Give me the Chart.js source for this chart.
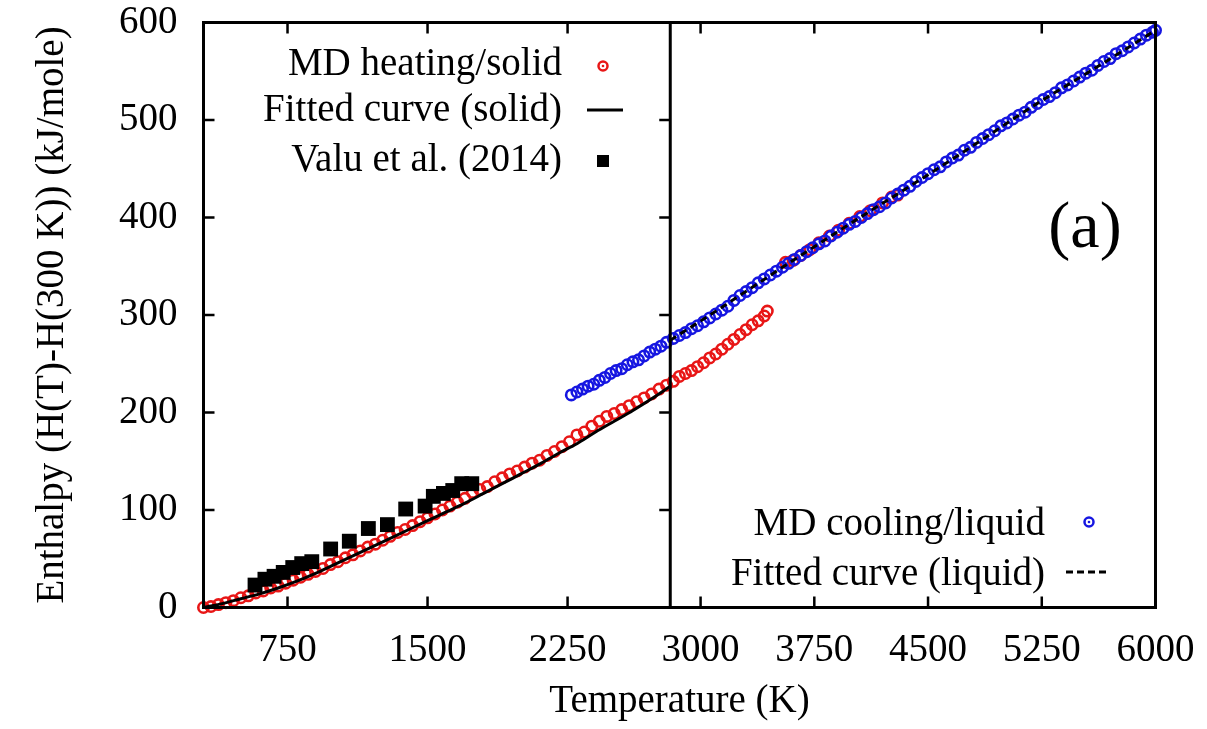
<!DOCTYPE html>
<html>
<head>
<meta charset="utf-8">
<script src="https://cdn.jsdelivr.net/npm/chart.js@4.4.1/dist/chart.umd.min.js"></script>
<style>
  body { margin: 0; background: #fff; }
  canvas { display: block; }
</style>
</head>
<body>
<canvas id="mychart" width="1207" height="729"></canvas>
<script>
// MD heating (solid, then melted liquid points above ~3500 K)
const heatingT = [300, 340, 380, 420, 460, 500, 540, 580, 620, 660, 700, 740, 780, 820, 860, 900, 940, 980,
  1020, 1060, 1100, 1140, 1180, 1220, 1260, 1300, 1340, 1380, 1420, 1460, 1500, 1540, 1580, 1620, 1660, 1700,
  1740, 1780, 1820, 1860, 1900, 1940, 1980, 2020, 2060, 2100, 2140, 2180, 2220, 2260, 2300, 2340, 2380, 2420,
  2460, 2500, 2540, 2580, 2620, 2660, 2700, 2740, 2780,
  2820, 2860, 2900, 2940, 2980, 3020, 3060, 3100, 3140, 3180, 3220, 3260, 3300, 3340, 3380, 3420, 3440,
  3560, 3610, 3660, 3720, 3780, 3850, 3910, 3980, 4050, 4120, 4200, 4260, 4300];
const heatingH = [0, 1, 3, 5, 7, 10, 12, 15, 17, 20, 22, 25, 28, 31, 34, 37, 40, 44,
  47, 51, 54, 58, 62, 65, 69, 73, 77, 80, 84, 88, 92, 96, 100, 104, 108, 112,
  118, 121, 124, 129, 133, 137, 140, 144, 148, 151, 156, 160, 165, 170, 177, 180, 186, 191,
  196, 199, 203, 207, 211, 215, 219, 224, 228,
  232, 237, 240, 243, 247, 251, 256, 260, 265, 270, 275, 280, 285, 290, 294, 299, 304,
  354, 356, 361, 367, 374, 381, 387, 394, 401, 407, 415, 421, 423];

// MD cooling (liquid)
const coolingT = [2270, 2300, 2330, 2360, 2390, 2420, 2450, 2480, 2510, 2540, 2570, 2600, 2630, 2660, 2690,
  2720, 2750, 2780,
  2820, 2860, 2900, 2940, 2980, 3020, 3060, 3100, 3140, 3180, 3220, 3260, 3300, 3340, 3380, 3420, 3460,
  3500, 3540, 3580, 3620, 3660, 3700, 3740, 3780, 3820, 3860, 3900, 3940, 3980, 4020, 4060, 4100, 4140,
  4180, 4220, 4260, 4300, 4340, 4380, 4420, 4460, 4500, 4540, 4580, 4620, 4660, 4700, 4740, 4780, 4820,
  4860, 4900, 4940, 4980, 5020, 5060, 5100, 5140, 5180, 5220, 5260, 5300, 5340, 5380, 5420, 5460, 5500,
  5540, 5580, 5620, 5660, 5700, 5740, 5780, 5820, 5860, 5900, 5940, 5980, 6000];
const coolingH = [218, 221, 224, 227, 229, 233, 236, 240, 243, 245, 249, 252, 254, 258, 262,
  265, 268, 272,
  276, 279, 282, 286, 289, 293, 297, 301, 305, 309, 315, 320, 324, 328, 333, 337, 341,
  345, 349, 353, 357, 361, 365, 369, 373, 376, 381, 385, 389, 393, 396, 400, 404, 408,
  411, 415, 420, 424, 428, 432, 437, 441, 445, 449, 452, 457, 461, 464, 469, 472, 477,
  481, 485, 489, 494, 497, 501, 505, 508, 513, 517, 521, 524, 528, 533, 536, 540, 544,
  548, 551, 556, 560, 563, 568, 571, 575, 579, 583, 587, 590, 592];

// fitted curves
const fitSolidT = [300, 400, 500, 600, 700, 800, 900, 1000, 1100, 1200, 1300, 1400, 1500, 1600, 1700, 1800,
  1900, 2000, 2100, 2200, 2300, 2400, 2500, 2600, 2700, 2800];
const fitSolidH = [0, 4, 9, 14, 20, 27, 35, 44, 53, 62, 71, 80, 89, 98, 107, 117,
  127, 137, 147, 158, 168, 180, 191, 202, 214, 227];
const fitLiquidT = [2800, 3200, 3600, 4000, 4400, 4800, 5200, 5600, 6000];
const fitLiquidH = [274, 314, 355, 395, 434, 474, 515, 553, 592];

// Valu et al. (2014)
const valuT = [576, 629, 678, 727, 778, 826, 880, 981, 1081, 1183, 1285, 1383, 1487, 1531, 1585, 1635, 1683, 1737];
const valuH = [23, 29, 32, 36, 41, 45, 47, 60, 68, 81, 85, 101, 104, 114, 117, 120, 127, 127];

const meltT = 2800;
const xLeftTicks = [750, 1500, 2250];
const xRightTicks = [3000, 3750, 4500, 5250, 6000];
const yTicks = [0, 100, 200, 300, 400, 500, 600];

const FONT = "'Liberation Serif', 'Times New Roman', serif";
const RED = 'rgb(232,22,22)';
const BLUE = 'rgb(22,22,225)';

function pts(xs, ys, keep) {
  const out = [];
  xs.forEach((x, i) => { if (keep(x)) out.push({x: x, y: ys[i]}); });
  return out;
}
const leftSide = x => x <= meltT;
const rightSide = x => x > meltT;

function ringSet(label, data, color, axis) {
  return {
    label: label, data: data, xAxisID: axis, yAxisID: 'y',
    showLine: false, pointStyle: 'circle', pointRadius: 5.2, pointHoverRadius: 5.2,
    borderColor: color, backgroundColor: 'rgba(0,0,0,0)', pointBorderWidth: 2.6, clip: false
  };
}

const datasets = [
  {
    label: 'Valu et al. (2014)', data: pts(valuT, valuH, leftSide), xAxisID: 'xL', yAxisID: 'y',
    showLine: false, pointStyle: 'rect', pointRadius: 10.5, pointHoverRadius: 10.5,
    backgroundColor: '#000', borderColor: '#000', borderWidth: 0, clip: false
  },
  {
    label: 'Fitted curve (solid)', data: pts(fitSolidT, fitSolidH, leftSide), xAxisID: 'xL', yAxisID: 'y',
    showLine: true, pointRadius: 0, borderColor: '#000', borderWidth: 3, cubicInterpolationMode: 'monotone'
  },
  {
    label: 'Fitted curve (liquid)', data: pts(fitLiquidT, fitLiquidH, x => x >= meltT), xAxisID: 'xR', yAxisID: 'y',
    showLine: true, pointRadius: 0, borderColor: '#000', borderWidth: 3, borderDash: [7, 5],
    cubicInterpolationMode: 'monotone'
  },
  ringSet('MD cooling/liquid', pts(coolingT, coolingH, leftSide), BLUE, 'xL'),
  ringSet('MD cooling/liquid', pts(coolingT, coolingH, rightSide), BLUE, 'xR'),
  ringSet('MD heating/solid', pts(heatingT, heatingH, leftSide), RED, 'xL'),
  ringSet('MD heating/solid', pts(heatingT, heatingH, rightSide), RED, 'xR')
];

const fixTicks = list => scale => { scale.ticks = list.map(v => ({value: v})); };
const plainLabel = v => String(v);
const fitX = s => { s.height = 121.5; s.paddingLeft = 0; s.paddingRight = 0; };

// frame, inward tics, legends, panel label and x title
const decorPlugin = {
  id: 'decor',
  afterDraw(chart) {
    const {ctx, chartArea: a, scales} = chart;
    const xL = scales.xL, xR = scales.xR, y = scales.y;
    const tl = 11;
    const div = xL.getPixelForValue(meltT);
    ctx.save();
    ctx.strokeStyle = '#000';
    ctx.lineWidth = 2.5;
    ctx.beginPath();
    xLeftTicks.forEach(v => {
      const p = xL.getPixelForValue(v);
      ctx.moveTo(p, a.bottom); ctx.lineTo(p, a.bottom - tl);
      ctx.moveTo(p, a.top); ctx.lineTo(p, a.top + tl);
    });
    xRightTicks.slice(0, -1).forEach(v => {
      const p = xR.getPixelForValue(v);
      ctx.moveTo(p, a.bottom); ctx.lineTo(p, a.bottom - tl);
      ctx.moveTo(p, a.top); ctx.lineTo(p, a.top + tl);
    });
    yTicks.slice(1, -1).forEach(v => {
      const p = y.getPixelForValue(v);
      ctx.moveTo(a.left, p); ctx.lineTo(a.left + tl, p);
      ctx.moveTo(div, p); ctx.lineTo(div - tl, p);
    });
    ctx.stroke();
    ctx.lineWidth = 3;
    ctx.strokeRect(a.left, a.top, a.width, a.height);
    ctx.beginPath();
    ctx.moveTo(div, a.top); ctx.lineTo(div, a.bottom);
    ctx.stroke();

    ctx.fillStyle = '#000';
    ctx.font = '39px ' + FONT;
    ctx.textAlign = 'right';
    ctx.textBaseline = 'alphabetic';
    // top-left key
    ctx.fillText('MD heating/solid', 562, 75);
    ctx.fillText('Fitted curve (solid)', 562, 121);
    ctx.fillText('Valu et al. (2014)', 562, 171);
    ctx.lineWidth = 2.5;
    ctx.strokeStyle = RED;
    ctx.beginPath(); ctx.arc(603, 66, 4.5, 0, Math.PI * 2); ctx.stroke();
    ctx.fillStyle = RED;
    ctx.beginPath(); ctx.arc(603, 66, 1.3, 0, Math.PI * 2); ctx.fill();
    ctx.strokeStyle = '#000';
    ctx.lineWidth = 3;
    ctx.beginPath(); ctx.moveTo(587, 110); ctx.lineTo(623, 110); ctx.stroke();
    ctx.fillStyle = '#000';
    ctx.fillRect(597, 155, 12, 12);
    // bottom-right key
    ctx.fillText('MD cooling/liquid', 1045, 535);
    ctx.fillText('Fitted curve (liquid)', 1045, 585);
    ctx.lineWidth = 2.5;
    ctx.strokeStyle = BLUE;
    ctx.beginPath(); ctx.arc(1089, 522, 4.5, 0, Math.PI * 2); ctx.stroke();
    ctx.fillStyle = BLUE;
    ctx.beginPath(); ctx.arc(1089, 522, 1.3, 0, Math.PI * 2); ctx.fill();
    ctx.strokeStyle = '#000';
    ctx.lineWidth = 3;
    ctx.setLineDash([7, 4]);
    ctx.beginPath(); ctx.moveTo(1066, 572); ctx.lineTo(1106, 572); ctx.stroke();
    ctx.setLineDash([]);

    ctx.fillStyle = '#000';
    ctx.textAlign = 'center';
    ctx.font = '66px ' + FONT;
    ctx.fillText('(a)', 1085, 247);
    ctx.font = '39px ' + FONT;
    ctx.fillText('Temperature (K)', (a.left + a.right) / 2, 712);
    ctx.restore();
  }
};

const tickFont = {family: FONT, size: 39};

new Chart(document.getElementById('mychart'), {
  type: 'scatter',
  data: {datasets: datasets},
  options: {
    responsive: false,
    animation: false,
    layout: {autoPadding: false, padding: {left: 0, right: 51.5, top: 22.5, bottom: 0}},
    plugins: {legend: {display: false}, tooltip: {enabled: false}},
    scales: {
      xL: {
        type: 'linear', position: 'bottom', stack: 'temp', stackWeight: 467,
        min: 300, max: meltT,
        afterBuildTicks: fixTicks(xLeftTicks),
        afterFit: fitX,
        grid: {display: false}, border: {display: false},
        ticks: {font: tickFont, color: '#000', padding: 12, maxRotation: 0, autoSkip: false, callback: plainLabel}
      },
      xR: {
        type: 'linear', position: 'bottom', stack: 'temp', stackWeight: 485.5,
        min: meltT, max: 6000,
        afterBuildTicks: fixTicks(xRightTicks),
        afterFit: fitX,
        grid: {display: false}, border: {display: false},
        ticks: {font: tickFont, color: '#000', padding: 12, maxRotation: 0, autoSkip: false, callback: plainLabel}
      },
      y: {
        type: 'linear', position: 'left', min: 0, max: 600,
        afterBuildTicks: fixTicks(yTicks),
        afterFit: s => { s.width = 203.5; s.paddingTop = 0; s.paddingBottom = 0; },
        grid: {display: false}, border: {display: false},
        ticks: {font: tickFont, color: '#000', padding: 18, callback: plainLabel},
        title: {
          display: true, text: 'Enthalpy (H(T)-H(300 K)) (kJ/mole)', color: '#000',
          font: {family: FONT, size: 39}, padding: {top: 29, bottom: 0}
        }
      }
    }
  },
  plugins: [decorPlugin]
});
</script>
</body>
</html>
